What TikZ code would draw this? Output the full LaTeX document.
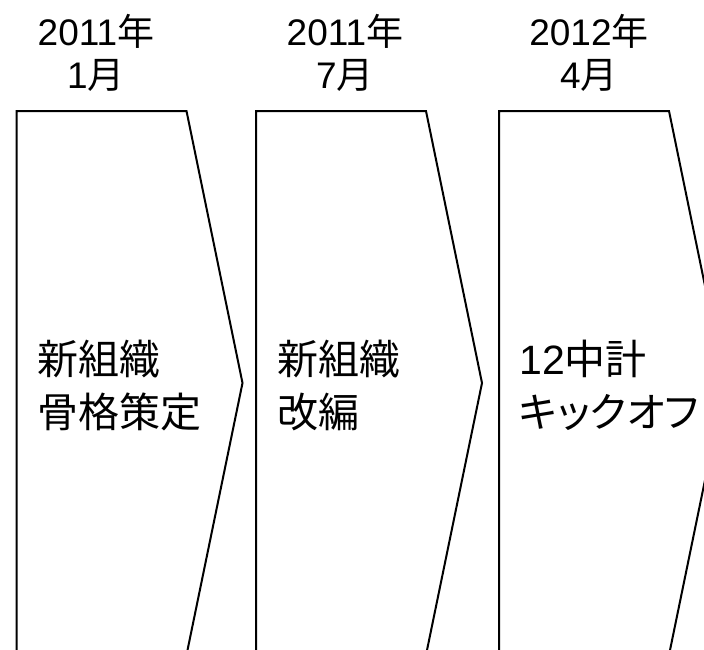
\documentclass[tikz,border=0pt]{standalone}
\usepackage{fontspec}
\setmainfont{Liberation Sans}
\newfontfamily\jpfont{Noto Sans CJK JP}
\newfontfamily\jpkana[RawFeature=+palt]{Noto Sans CJK JP}
\tikzset{
    datelabel/.style={align=center, anchor=base, inner sep=0pt, font=\fontsize{37}{43}\selectfont},
    tasklabel/.style={align=left, anchor=base west, inner sep=0pt, font=\fontsize{41}{53}\selectfont},
    chevron/.style={draw=black, line width=2pt, line join=miter}
}
\begin{document}
\begin{tikzpicture}[x=1pt,y=-1pt]
        \useasboundingbox (0,0) rectangle (704,649);
        \clip (0,0) rectangle (704,649);
        \foreach \n/\x in {1/16.5,2/256,3/499}{
            \coordinate (A\n) at (\x,111);
            \coordinate (B\n) at (\x+170,111);
            \coordinate (C\n) at (\x+226,383);
            \coordinate (D\n) at (\x+170,655);
            \coordinate (E\n) at (\x,655);
            \draw[chevron] (A\n) -- (B\n) -- (C\n) -- (D\n) -- (E\n) -- cycle;
        }
        \node[datelabel] (date1) at (96,88) {2011{\jpfont 年}\\1{\jpfont 月}};
        \node[datelabel] (date2) at (345,88) {2011{\jpfont 年}\\7{\jpfont 月}};
        \node[datelabel] (date3) at (589,88) {2012{\jpfont 年}\\4{\jpfont 月}};
        \node[tasklabel] (task1) at (37,427) {{\jpfont 新組織}\\{\jpfont 骨格策定}};
        \node[tasklabel] (task2) at (277,427) {{\jpfont 新組織}\\{\jpfont 改編}};
        \node[tasklabel] (task3) at (519,427) {12{\jpfont 中計}\\{\jpkana キックオフ}};
    \end{tikzpicture}
\end{document}
